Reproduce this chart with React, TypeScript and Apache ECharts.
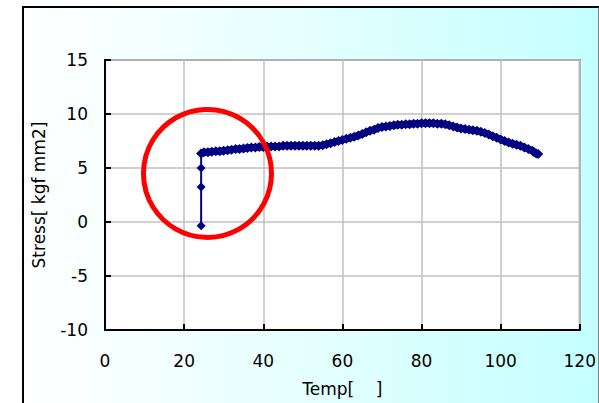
import React, { useEffect, useRef } from "react";
import * as echarts from "echarts";

const temps: number[] = [
  24.3, 24.3, 24.3, 24.3, 25, 26, 27, 28, 29, 30, 31, 32, 33, 34, 35, 36, 37, 38, 39, 40,
  41, 42, 43, 44, 45, 46, 47, 48, 49, 50, 51, 52, 53, 54, 55, 56, 57, 58, 59, 60,
  61, 62, 63, 64, 65, 66, 67, 68, 69, 70, 71, 72, 73, 74, 75, 76, 77, 78, 79, 80,
  81, 82, 83, 84, 85, 86, 87, 88, 89, 90, 91, 92, 93, 94, 95, 96, 97, 98, 99, 100,
  101, 102, 103, 104, 105, 106, 107, 108, 108.5, 109, 109.5,
];
const stress: number[] = [
  -0.35, 3.25, 5.0, 6.35, 6.45, 6.45, 6.5, 6.55, 6.55, 6.6, 6.65, 6.7, 6.75, 6.75, 6.8, 6.85, 6.9, 6.9, 6.95, 6.95,
  7.0, 7.0, 7.0, 7.0, 7.05, 7.05, 7.05, 7.05, 7.05, 7.05, 7.05, 7.05, 7.05, 7.05, 7.1, 7.2, 7.3, 7.4, 7.5, 7.6,
  7.7, 7.8, 7.9, 8.0, 8.15, 8.3, 8.45, 8.55, 8.7, 8.8, 8.85, 8.9, 8.95, 9.0, 9.0, 9.05, 9.05, 9.1, 9.1, 9.15,
  9.15, 9.15, 9.15, 9.1, 9.1, 9.05, 8.95, 8.85, 8.75, 8.65, 8.6, 8.55, 8.5, 8.45, 8.35, 8.25, 8.1, 7.95, 7.8, 7.65,
  7.5, 7.35, 7.25, 7.15, 7.05, 6.9, 6.75, 6.6, 6.45, 6.35, 6.3,
];
// index where the loading ramp ends and the heating curve begins
const rampEnd = 3;
const xTicks = { min: 0, max: 120, interval: 20 };
const yTicks = { min: -10, max: 15, interval: 5 };
const highlightCenter: [number, number] = [25.9, 4.5];
const xLabel = "Temp[    ]";
const yLabel = "Stress[ kgf mm2]";

const FONT = "'DejaVu Sans', sans-serif";
const NAVY = "#000080";

export default function App() {
  const ref = useRef<HTMLDivElement>(null);
  useEffect(() => {
    if (!ref.current) return;
    const chart = echarts.init(ref.current, null, { renderer: "svg" });
    const data = temps.map((t, i) => [t, stress[i]]);
    const ramp = data.slice(0, rampEnd + 1);
    const curve = data.slice(rampEnd);
    chart.setOption({
      animation: false,
      backgroundColor: "transparent",
      grid: {
        left: 105,
        top: 60,
        right: 19,
        bottom: 73,
        show: true,
        backgroundColor: "#ffffff",
        borderColor: "#808080",
        borderWidth: 2,
      },
      xAxis: {
        type: "value",
        min: xTicks.min,
        max: xTicks.max,
        interval: xTicks.interval,
        name: xLabel,
        nameLocation: "middle",
        nameGap: 50,
        nameTextStyle: { color: "#000", fontSize: 17, fontFamily: FONT },
        axisLine: { show: true, onZero: false, lineStyle: { color: "#000", width: 2 } },
        axisTick: { show: true, inside: true, length: 6, lineStyle: { color: "#000", width: 2 } },
        axisLabel: { color: "#000", fontSize: 17, fontFamily: FONT, margin: 22 },
        splitLine: { show: true, lineStyle: { color: "#c0c0c0", width: 1.5 } },
      },
      yAxis: {
        type: "value",
        min: yTicks.min,
        max: yTicks.max,
        interval: yTicks.interval,
        name: yLabel,
        nameLocation: "middle",
        nameGap: 58,
        nameRotate: 90,
        nameTextStyle: { color: "#000", fontSize: 17, fontFamily: FONT },
        axisLine: { show: true, onZero: false, lineStyle: { color: "#000", width: 2 } },
        axisTick: { show: true, inside: true, length: 6, lineStyle: { color: "#000", width: 2 } },
        axisLabel: { color: "#000", fontSize: 17, fontFamily: FONT, margin: 17 },
        splitLine: { show: true, lineStyle: { color: "#c0c0c0", width: 1.5 } },
      },
      series: [
        {
          type: "line",
          data: ramp,
          symbol: "diamond",
          symbolSize: 9,
          showAllSymbol: true,
          lineStyle: { color: NAVY, width: 2 },
          itemStyle: { color: NAVY },
          z: 5,
        },
        {
          type: "line",
          data: curve,
          symbol: "diamond",
          symbolSize: 10,
          showAllSymbol: true,
          lineStyle: { color: NAVY, width: 7 },
          itemStyle: { color: NAVY },
          z: 6,
        },
      ],
    });
    const c = chart.convertToPixel({ gridIndex: 0 }, highlightCenter) as number[];
    chart.setOption({
      graphic: [
        {
          type: "circle",
          shape: { cx: c[0], cy: c[1], r: 64 },
          style: { fill: "none", stroke: "#ff0000", lineWidth: 5 },
          z: 100,
        },
      ],
    });
    return () => chart.dispose();
  }, []);
  return (
    <div style={{ position: "fixed", left: 0, top: 0, width: 599, height: 403, background: "#fff", overflow: "hidden" }}>
      <div
        style={{
          position: "absolute",
          left: 22,
          top: 6,
          width: 574,
          height: 420,
          borderLeft: "2px solid #000",
          borderTop: "2px solid #000",
          borderRight: "2px solid #808080",
          background: "linear-gradient(to right, #ffffff 0%, #e8ffff 45%, #c4ffff 100%)",
        }}
      />
      <div ref={ref} style={{ position: "absolute", left: 0, top: 0, width: 599, height: 403 }} />
    </div>
  );
}
